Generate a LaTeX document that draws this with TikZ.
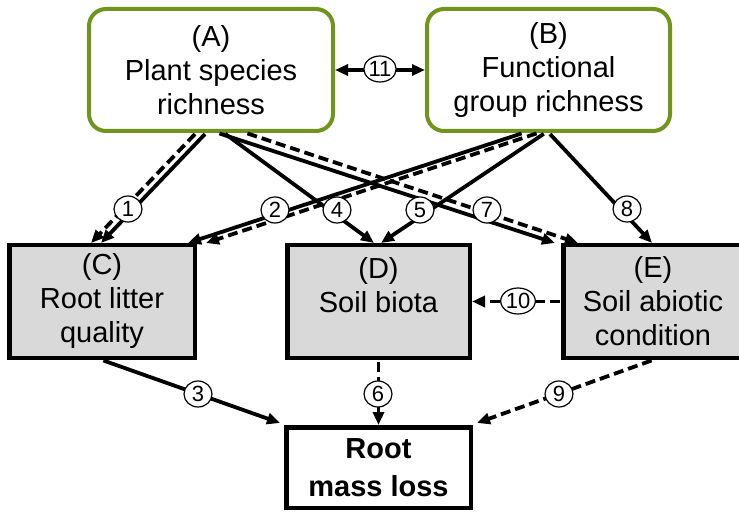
\documentclass[tikz,border=0pt]{standalone}
\usepackage{fontspec}
\setmainfont{Liberation Sans}
\usetikzlibrary{arrows.meta,shapes.geometric}
\definecolor{boxgreen}{RGB}{112,148,28}
\definecolor{boxgray}{RGB}{217,217,217}
\begin{document}
\begin{tikzpicture}[x=1pt,y=-1pt,
  boxfont/.style={font=\fontsize{29}{34}\selectfont},
  topbox/.style={draw=boxgreen,line width=4pt,rounded corners=17pt,fill=white,align=center,inner sep=0pt,boxfont},
  midbox/.style={draw=black,line width=4.5pt,fill=boxgray,align=center,inner sep=0pt,boxfont},
  outbox/.style={draw=black,line width=4.5pt,fill=white,align=center,inner sep=0pt,font=\bfseries\fontsize{29}{38}\selectfont},
  conn/.style={line width=3.8pt,-{Triangle[length=13pt,width=11pt]},shorten <=1.5pt},
  dconn/.style={conn,dash pattern=on 10pt off 5pt},
  num/.style={ellipse,draw,line width=1.2pt,fill=white,inner sep=0pt,minimum width=28pt,minimum height=26pt,font=\fontsize{22}{22}\selectfont}]
\clip (0,0) rectangle (739,513);
\fill[white] (0,0) rectangle (739,513);
% boxes
\node[topbox,minimum width=244pt,minimum height=122pt] (A) at (211,70) {(A)\\Plant species\\richness};
\node[topbox,minimum width=243pt,minimum height=122pt] (B) at (548.5,70) {(B)\\Functional\\group richness};
\node[midbox,minimum width=185.5pt,minimum height=112.5pt] (C) at (102,301.5) {(C)\\Root litter\\quality};
\node[midbox,minimum width=182.5pt,minimum height=112.5pt] (D) at (378.5,301.5) {(D)\\Soil biota\\\phantom{X}};
\node[midbox,minimum width=179.5pt,minimum height=112.5pt] (E) at (653,301.5) {(E)\\Soil abiotic\\condition};
\node[outbox,minimum width=184.5pt,minimum height=80.5pt] (R) at (378.5,467.5) {Root\\mass loss};
% connectors
\draw[conn] ([xshift=-5pt]A.south) -- ([xshift=-1pt]C.north);
\draw[dconn] ([xshift=-15pt]A.south) -- ([xshift=-11pt]C.north);
\draw[conn] ([xshift=13pt]A.south) -- ([xshift=-4.5pt]D.north);
\draw[conn] ([xshift=7pt]A.south) -- ([xshift=-6pt]E.north west);
\draw[dconn] ([xshift=35pt]A.south) -- ([xshift=17pt]E.north west);
\draw[conn] ([xshift=-25.5pt]B.south) -- ([xshift=-9pt]C.north east);
\draw[dconn] ([xshift=-10.5pt]B.south) -- ([xshift=9pt]C.north east);
\draw[conn] ([xshift=-3.5pt]B.south) -- ([xshift=2.5pt]D.north);
\draw[conn] ([xshift=0.5pt]B.south) -- ([xshift=-1pt]E.north);
\draw[conn,{Triangle[length=13pt,width=11pt]}-{Triangle[length=13pt,width=11pt]},shorten <=0pt] (A.east) -- (B.west);
\draw[dconn] (E.west) -- (D.east);
\draw[conn] (C.south) -- ([xshift=-4pt,yshift=2pt]R.north west);
\draw[dconn] (D.south) -- (R.north);
\draw[dconn] (E.south) -- ([xshift=4pt,yshift=2pt]R.north east);
% labels
\node[num] (n1) at (128,209) {1};
\node[num] (n2) at (275,210) {2};
\node[num] (n3) at (198,394) {3};
\node[num] (n4) at (337,210) {4};
\node[num] (n5) at (420,210) {5};
\node[num] (n6) at (378,394) {6};
\node[num] (n7) at (487,210) {7};
\node[num] (n8) at (627,209) {8};
\node[num] (n9) at (559,394) {9};
\node[num] (n10) at (518,301) {10};
\node[num] (n11) at (380,69) {11};
\end{tikzpicture}
\end{document}
